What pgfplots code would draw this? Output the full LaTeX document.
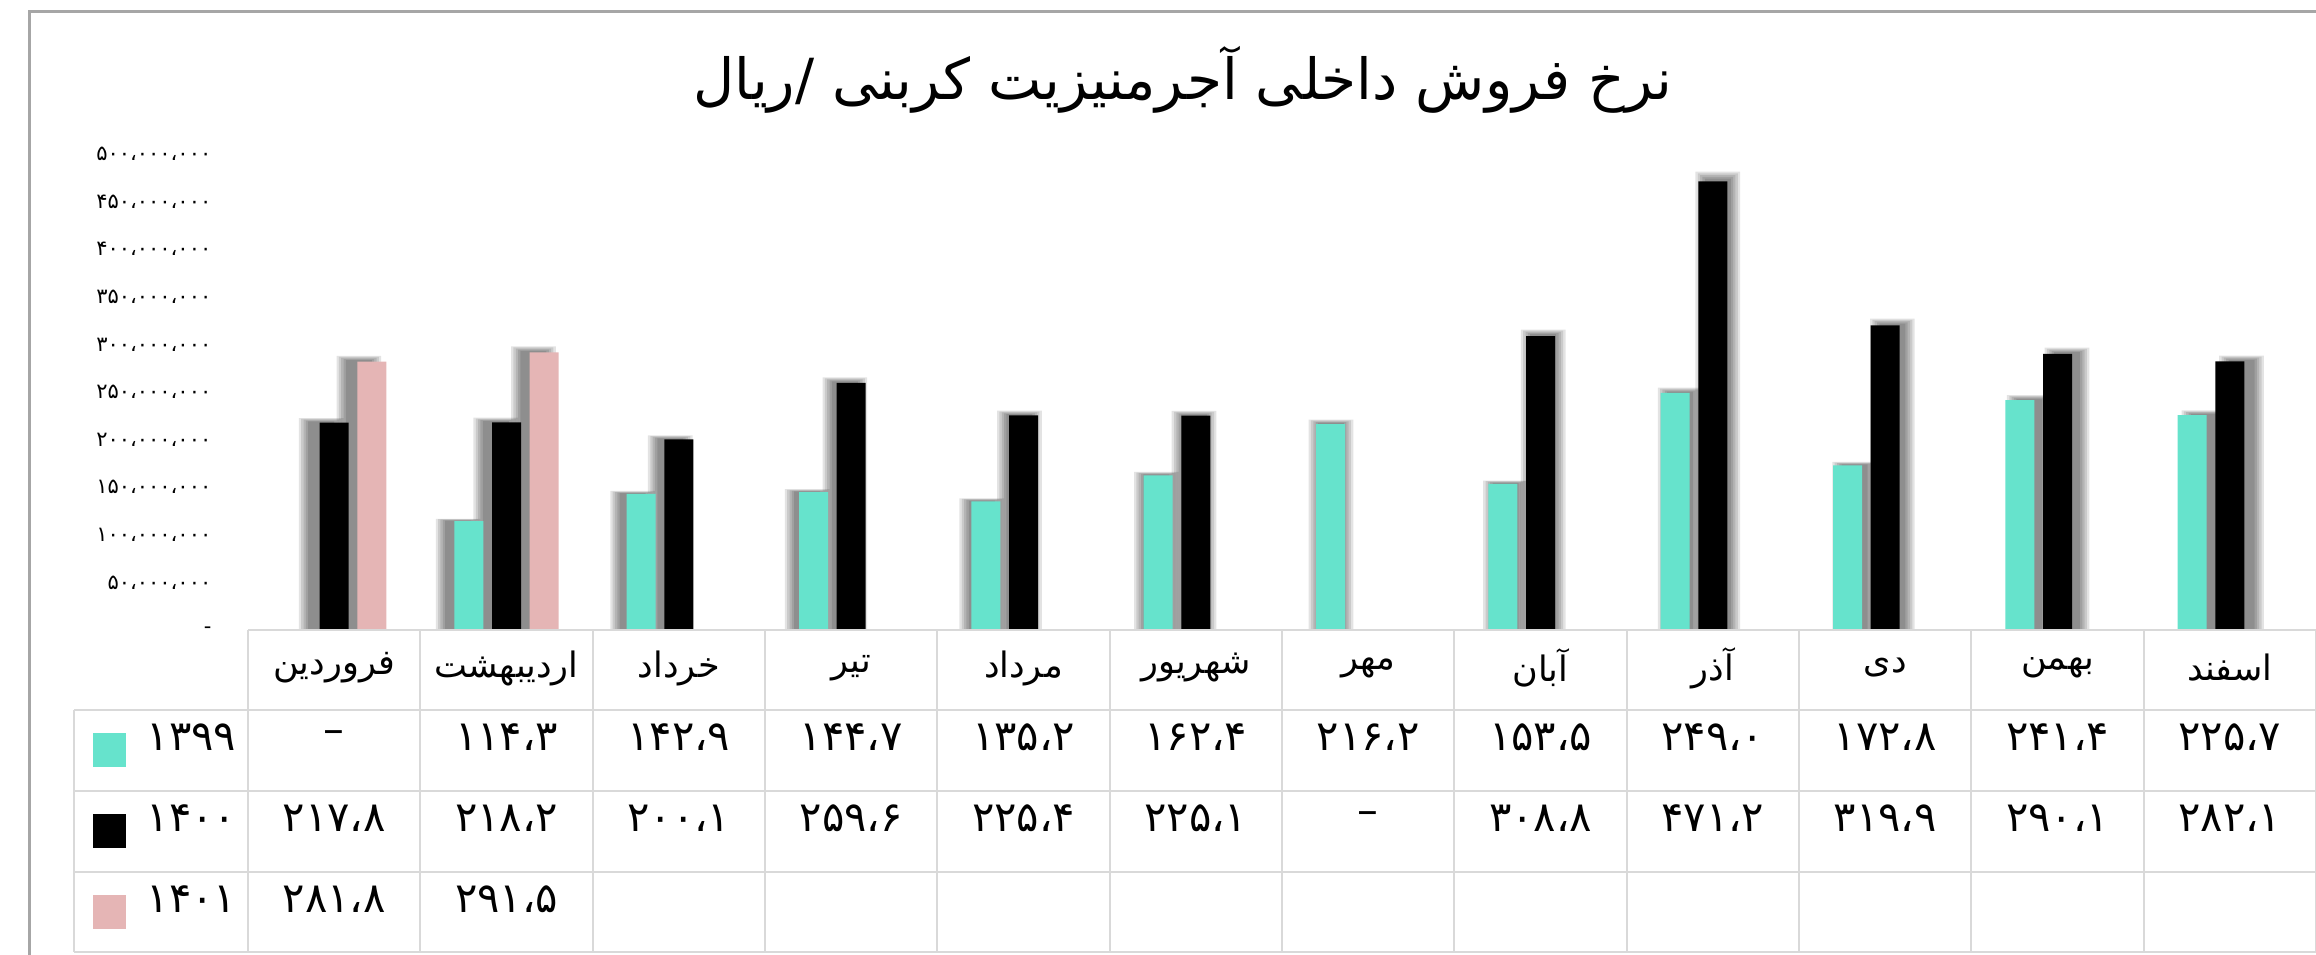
\documentclass[border=0pt]{standalone}
\usepackage{fontspec}
\usepackage{pgfplots}
\usepackage{pgfplotstable}
\pgfplotsset{compat=1.18}
\TeXXeTstate=1
\newfontfamily\fafont[Script=Arabic]{DejaVu Sans}

\definecolor{c1399}{HTML}{66E3CC}
\definecolor{c1400}{HTML}{000000}
\definecolor{c1401}{HTML}{E5B5B5}
\definecolor{gridc}{HTML}{D9D9D9}
\definecolor{framec}{HTML}{A6A6A6}

% monthly price, million rial (0 = shown as dash, nan = empty cell)
\pgfplotstableread{
i  y1399  y1400  y1401
1  0      217.8  281.8
2  114.3  218.2  291.5
3  142.9  200.1  nan
4  144.7  259.6  nan
5  135.2  225.4  nan
6  162.4  225.1  nan
7  216.2  0      nan
8  153.5  308.8  nan
9  249.0  471.2  nan
10 172.8  319.9  nan
11 241.4  290.1  nan
12 225.7  282.1  nan
}\datatable

% latin digits -> persian digits
\expandafter\def\csname fa@0\endcsname{۰}
\expandafter\def\csname fa@1\endcsname{۱}
\expandafter\def\csname fa@2\endcsname{۲}
\expandafter\def\csname fa@3\endcsname{۳}
\expandafter\def\csname fa@4\endcsname{۴}
\expandafter\def\csname fa@5\endcsname{۵}
\expandafter\def\csname fa@6\endcsname{۶}
\expandafter\def\csname fa@7\endcsname{۷}
\expandafter\def\csname fa@8\endcsname{۸}
\expandafter\def\csname fa@9\endcsname{۹}
\expandafter\def\csname fa@.\endcsname{،}
\newcommand\faNum[1]{\faloop#1\relax}
\def\faloop#1{\ifx\relax#1\else\csname fa@\string#1\endcsname\expandafter\faloop\fi}
\def\strzero{0}
\def\strnan{nan}
\newcommand\tabcell[2]{%
  \pgfplotstablegetelem{#1}{#2}\of\datatable
  \edef\cellval{\pgfplotsretval}%
  \ifx\cellval\strzero –\else\ifx\cellval\strnan\else\expandafter\faNum\expandafter{\cellval}\fi\fi}

\pgfplotsset{
  mainbar/.style={ybar, bar width=8.7pt, draw=none},
  shadowbar/.style={ybar, draw=none, fill=black, fill opacity=0.11, forget plot},
}
% soft shadow, pushed away from the middle of the chart
\newcommand\shadowlayer[4]{%
  \addplot[shadowbar, bar width=#3, bar shift=#2] table[x expr={6.8+(\thisrow{i}-6.8)*1.013}, y expr={\thisrow{#1}*#4}] {\datatable};
}
\newcommand\shadowplots[2]{%
  \shadowlayer{#1}{#2}{7.8pt}{1.006}
  \shadowlayer{#1}{#2}{9.2pt}{1.010}
  \shadowlayer{#1}{#2}{10.6pt}{1.014}
  \shadowlayer{#1}{#2}{12pt}{1.018}
  \shadowlayer{#1}{#2}{13.4pt}{1.022}
}

\begin{document}
\begin{tikzpicture}
\begin{axis}[
  at={(74.4pt,97.2pt)}, anchor=south west,
  scale only axis, width=620.4pt, height=142.8pt,
  xmin=0.5, xmax=12.5, ymin=0, ymax=500,
  axis line style={draw=none},
  xtick=\empty,
  ytick={0,50,...,500},
  yticklabels={-\hspace{2.5pt},۵۰،۰۰۰،۰۰۰,۱۰۰،۰۰۰،۰۰۰,۱۵۰،۰۰۰،۰۰۰,۲۰۰،۰۰۰،۰۰۰,۲۵۰،۰۰۰،۰۰۰,۳۰۰،۰۰۰،۰۰۰,۳۵۰،۰۰۰،۰۰۰,۴۰۰،۰۰۰،۰۰۰,۴۵۰،۰۰۰،۰۰۰,۵۰۰،۰۰۰،۰۰۰},
  major tick length=0pt,
  yticklabel style={font=\fafont\fontsize{6.3}{7}\selectfont, inner sep=0pt, anchor=east, xshift=-10.8pt},
]
\shadowplots{y1399}{-11.3pt}
\shadowplots{y1400}{0pt}
\shadowplots{y1401}{11.3pt}
\addplot[mainbar, fill=c1399, bar shift=-11.3pt] table[x=i, y=y1399] {\datatable};
\addplot[mainbar, fill=c1400, bar shift=0pt] table[x=i, y=y1400] {\datatable};
\addplot[mainbar, fill=c1401, bar shift=11.3pt] table[x=i, y=y1401] {\datatable};
\end{axis}

% everything else in reference pixels (y down)
\begin{scope}[yshift=286.2pt, x=0.3pt, y=-0.3pt]
  \draw[framec, line width=0.9pt] (29,970) -- (29,12) -- (2330,12);
  \node[font=\fafont\fontsize{17}{20}\selectfont] at (1183,80)
    {\beginR نرخ فروش داخلی آجرمنیزیت کربنی /ریال\endR};

  % data table
  \begin{scope}[gridc, line width=0.6pt]
    \draw (248,630) -- (2330,630);
    \foreach \yy in {710,791,872,952} \draw (74,\yy) -- (2330,\yy);
    \draw (74,710) -- (74,952);
    \foreach \k in {0,...,12} \draw ({248+\k*172.33},630) -- ({248+\k*172.33},952);
  \end{scope}
  \foreach \k/\m in {1/فروردین,2/اردیبهشت,3/خرداد,4/تیر,5/مرداد,6/شهریور,7/مهر,8/آبان,9/آذر,10/دی,11/بهمن,12/اسفند}
    \node[font=\fafont\fontsize{10.5}{12}\selectfont] at ({248+(\k-0.5)*172.33},668) {\m};
  \foreach \k in {1,...,12} {
    \pgfmathtruncatemacro\r{\k-1}
    \node[font=\fafont\fontsize{12.5}{14}\selectfont] at ({248+(\k-0.5)*172.33},737) {\tabcell{\r}{y1399}};
    \node[font=\fafont\fontsize{12.5}{14}\selectfont] at ({248+(\k-0.5)*172.33},818) {\tabcell{\r}{y1400}};
    \node[font=\fafont\fontsize{12.5}{14}\selectfont] at ({248+(\k-0.5)*172.33},899) {\tabcell{\r}{y1401}};
  }
  % legend keys
  \fill[c1399] (93,733) rectangle (126,767);
  \fill[c1400] (93,814) rectangle (126,848);
  \fill[c1401] (93,895) rectangle (126,929);
  \begin{scope}[every node/.style={font=\fafont\fontsize{12.5}{14}\selectfont, anchor=east, inner sep=0pt}]
    \node at (237,737) {۱۳۹۹};
    \node at (237,818) {۱۴۰۰};
    \node at (237,899) {۱۴۰۱};
  \end{scope}
\end{scope}
\pgfresetboundingbox
\useasboundingbox (0,0) rectangle (694.8pt,286.2pt);
\end{tikzpicture}
\end{document}
